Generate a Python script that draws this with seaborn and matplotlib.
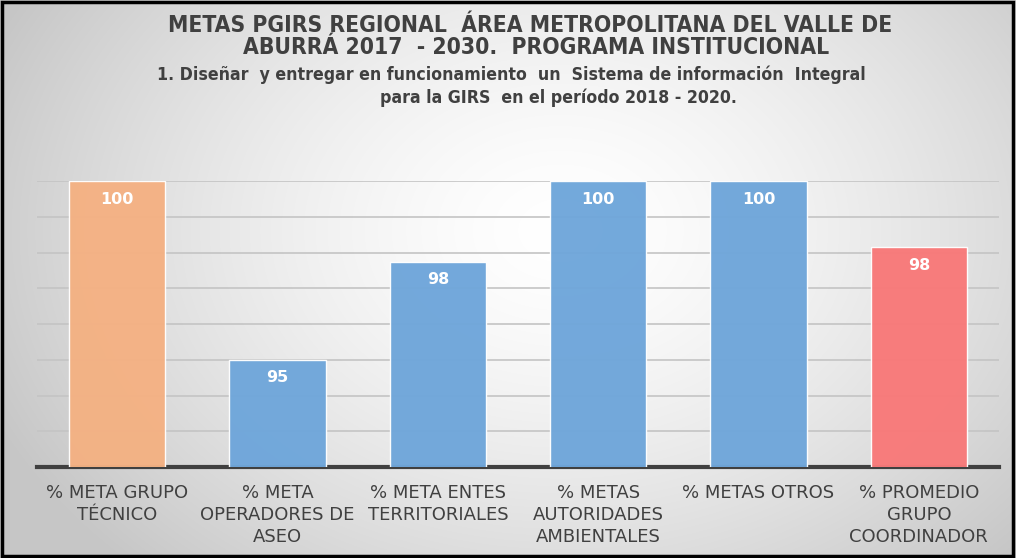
import numpy as np
import pandas as pd
import matplotlib.pyplot as plt
import seaborn as sns

# data
categorias = ['% META GRUPO\nTÉCNICO', '% META\nOPERADORES DE\nASEO', '% META ENTES\nTERRITORIALES',
              '% METAS\nAUTORIDADES\nAMBIENTALES', '% METAS OTROS', '% PROMEDIO\nGRUPO\nCOORDINADOR']
valores = [100, 95, 97.75, 100, 100, 98.15]
etiquetas = ['100', '95', '98', '100', '100', '98']
colores = ['#F4B183', '#6FA6DA', '#6FA6DA', '#6FA6DA', '#6FA6DA', '#F87979']

titulo = ['METAS PGIRS REGIONAL  ÁREA METROPOLITANA DEL VALLE DE',
          'ABURRÁ 2017  - 2030.  PROGRAMA INSTITUCIONAL']
subtitulo = ['1. Diseñar  y entregar en funcionamiento  un  Sistema de información  Integral',
             'para la GIRS  en el período 2018 - 2020.']

sns.set_theme(style='white')
plt.rcParams['font.family'] = ['DejaVu Sans']

fig = plt.figure(figsize=(10.16, 5.58), dpi=100)

# radial gradient background
bg = fig.add_axes([0, 0, 1, 1], zorder=-10)
yy, xx = np.mgrid[0:558, 0:1016]
r = np.sqrt(((xx - 560) / 560.0) ** 2 + ((yy - 230) / 420.0) ** 2)
g = np.clip(1.0 - 0.19 * r ** 1.5, 0.78, 1.0)
bg.imshow(np.dstack([g, g, g]), aspect='auto', extent=[0, 1, 0, 1])
bg.set_xlim(0, 1)
bg.set_ylim(0, 1)
bg.axis('off')
bg.add_patch(plt.Rectangle((0.002, 0.003), 0.995, 0.994, fill=False, lw=2.5, ec='black',
                           transform=bg.transAxes))

ax = fig.add_axes([0.0364, 0.163, 0.9469, 0.512])
ax.patch.set_alpha(0)
df = pd.DataFrame({'cat': categorias, 'val': valores})
sns.barplot(data=df, x='cat', y='val', hue='cat', palette=colores, legend=False, saturation=1,
            width=0.6, ax=ax, alpha=0.97, linewidth=1, zorder=3)
for p in ax.patches:
    p.set_edgecolor((1, 1, 1, 0.45))

ax.set_ylim(92, 100)
ax.set_yticks(np.arange(93, 101, 1))
ax.yaxis.grid(True, color='#C4C4C4', lw=1.2, zorder=1)
ax.set_axisbelow(True)
ax.tick_params(axis='y', left=False, labelleft=False)
ax.tick_params(axis='x', bottom=False, pad=6, labelsize=13, labelcolor='#404040')
for s in ['top', 'right', 'left']:
    ax.spines[s].set_visible(False)
ax.spines['bottom'].set_color('#404040')
ax.spines['bottom'].set_linewidth(3)
ax.set_xlabel('')
ax.set_ylabel('')
for lbl in ax.get_xticklabels():
    lbl.set_verticalalignment('top')
    lbl.set_linespacing(1.3)

for i, (v, t) in enumerate(zip(valores, etiquetas)):
    ax.annotate(t, (i, v), xytext=(0, -13), textcoords='offset points', ha='center', va='center',
                color='white', fontsize=11.5, fontweight='bold', zorder=5)

for x, y, t in zip([530, 536], [25, 48], titulo):
    fig.text(x / 1016, 1 - y / 558, t, ha='center', va='center', fontsize=16.4, fontweight='bold',
             color='#404040', fontstretch='condensed')
for x, y, t in zip([511, 558], [75, 98], subtitulo):
    fig.text(x / 1016, 1 - y / 558, t, ha='center', va='center', fontsize=12.7, fontweight='bold',
             color='#404040', fontstretch='condensed')

fig.savefig('out.png', dpi=100)
